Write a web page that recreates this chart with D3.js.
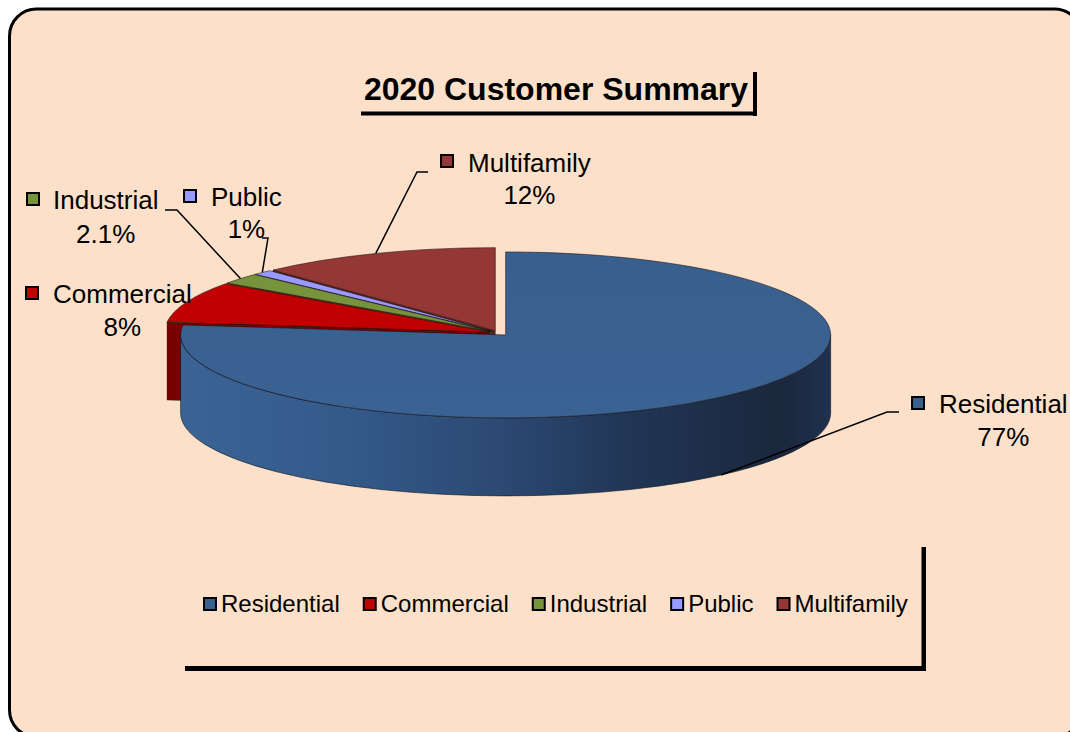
<!DOCTYPE html>
<html>
<head>
<meta charset="utf-8">
<script src="https://cdn.jsdelivr.net/npm/d3@7"></script>
<style>
  html, body { margin: 0; padding: 0; background: #fff; }
  svg text { font-family: "Liberation Sans", Arial, sans-serif; fill: #000; }
</style>
</head>
<body>
<div id="chart"></div>
<script>
// data
const categories = ["Residential", "Commercial", "Industrial", "Public", "Multifamily"];
const shares = [77, 8, 2.1, 1, 12];
const pctLabels = ["77%", "8%", "2.1%", "1%", "12%"];
const colors = ["#37608f", "#c00000", "#77933c", "#9999ff", "#953735"];
const title = "2020 Customer Summary";

const W = 1070, H = 732;

const svg = d3.select("#chart").append("svg")
  .attr("width", W).attr("height", H);

// chart area with rounded border
svg.append("rect")
  .attr("x", 9.5).attr("y", 9).attr("width", 1072).attr("height", 728)
  .attr("rx", 27).attr("ry", 27)
  .attr("fill", "#fce0c9").attr("stroke", "#000").attr("stroke-width", 3);

// title with its shadow lines
svg.append("rect").attr("x", 361).attr("y", 111.5).attr("width", 396).attr("height", 4).attr("fill", "#000");
svg.append("rect").attr("x", 753).attr("y", 72).attr("width", 4).attr("height", 44).attr("fill", "#000");
svg.append("text")
  .attr("x", 556).attr("y", 100)
  .attr("text-anchor", "middle")
  .style("font-size", "32px").style("font-weight", "bold")
  .text(title);

// =============================
// 3D PIE
// =============================
const cx = 499, cy = 333, rx = 325, ry = 83, depth = 78, explode = 10;

const arcs = d3.pie().sort(null).value(d => d)(shares)
  .map((a, i) => {
    const mid = (a.startAngle + a.endAngle) / 2;
    return {
      i, a0: a.startAngle, a1: a.endAngle, mid,
      ox: cx + explode * Math.sin(mid),
      oy: cy - explode * (ry / rx) * Math.cos(mid)
    };
  });

const pt = (s, a, dz = 0) => [s.ox + rx * Math.sin(a), s.oy - ry * Math.cos(a) + dz];

const defs = svg.append("defs");
const wallGrad = defs.append("linearGradient")
  .attr("id", "wallBlue").attr("gradientUnits", "userSpaceOnUse")
  .attr("x1", 180).attr("x2", 835).attr("y1", 0).attr("y2", 0);
[[0, "#3a6494"], [0.25, "#345a8a"], [0.5, "#2b4872"], [0.68, "#213656"], [0.92, "#1a273c"], [1, "#213250"]]
  .forEach(([o, c]) => wallGrad.append("stop").attr("offset", o).attr("stop-color", c));

const topGrad = defs.append("linearGradient")
  .attr("id", "topBlue").attr("x1", 0).attr("x2", 0).attr("y1", 0).attr("y2", 1);
[[0, "#395f8e"], [1, "#3a6292"]]
  .forEach(([o, c]) => topGrad.append("stop").attr("offset", o).attr("stop-color", c));

const darker = c => d3.color(c).darker(1.3).formatHex();

const pieG = svg.append("g");

function drawSlice(s) {
  const g = pieG.append("g");
  const col = colors[s.i];
  // radial cut faces
  [[s.a0, Math.sin(s.a0) < -1e-6], [s.a1, Math.sin(s.a1) > 1e-6]].forEach(([a, vis]) => {
    if (!vis) return;
    const p = pt(s, a), q = pt(s, a, depth);
    g.append("path")
      .attr("d", `M${s.ox},${s.oy}L${p}L${q}L${s.ox},${s.oy + depth}Z`)
      .attr("fill", darker(col))
      .attr("stroke", "#000").attr("stroke-opacity", 0.4).attr("stroke-width", 0.8);
  });
  // outer wall (front half only)
  const w0 = Math.max(s.a0, Math.PI / 2), w1 = Math.min(s.a1, 3 * Math.PI / 2);
  if (w1 > w0) {
    const p0 = pt(s, w0), p1 = pt(s, w1), b1 = pt(s, w1, depth), b0 = pt(s, w0, depth);
    g.append("path")
      .attr("d", `M${p0}A${rx},${ry} 0 0 1 ${p1}L${b1}A${rx},${ry} 0 0 0 ${b0}Z`)
      .attr("fill", s.i === 0 ? "url(#wallBlue)" : darker(col))
      .attr("stroke", "#0d1520").attr("stroke-opacity", 0.6).attr("stroke-width", 1);
  }
  // top face
  const t0 = pt(s, s.a0), t1 = pt(s, s.a1);
  const large = (s.a1 - s.a0) > Math.PI ? 1 : 0;
  g.append("path")
    .attr("d", `M${s.ox},${s.oy}L${t0}A${rx},${ry} 0 ${large} 1 ${t1}Z`)
    .attr("fill", s.i === 0 ? "url(#topBlue)" : col)
    .attr("stroke", "#1a1010").attr("stroke-opacity", 0.55).attr("stroke-width", 1);
}

// back slices first, front (Residential) last
arcs.slice().reverse().forEach(drawSlice);

// =============================
// DATA LABELS
// =============================
const labelLayout = [
  { sx: 912, sy: 397, tx: 939, ty: 413, py: 446, elbow: [887, 412], tick: 899 },
  { sx: 26,  sy: 287, tx: 53,  ty: 303, py: 336, elbow: null },
  { sx: 27,  sy: 193, tx: 53,  ty: 209, py: 243, elbow: [177, 210], tick: 165 },
  { sx: 184, sy: 190, tx: 211, ty: 206, py: 238, elbow: [268, 238], tick: 262 },
  { sx: 441, sy: 155, tx: 468, ty: 172, py: 204, elbow: [417, 172], tick: 428 }
];

const labG = svg.append("g");
arcs.forEach(s => {
  const L = labelLayout[s.i];
  if (L.elbow) {
    const front = Math.cos(s.mid) < 0;
    const anchor = pt(s, s.mid, front ? depth : 0);
    labG.append("path")
      .attr("d", `M${anchor}L${L.elbow}L${L.tick},${L.elbow[1]}`)
      .attr("fill", "none").attr("stroke", "#000").attr("stroke-width", 1.5);
  }
  labG.append("rect")
    .attr("x", L.sx).attr("y", L.sy).attr("width", 12).attr("height", 12)
    .attr("fill", colors[s.i]).attr("stroke", "#000").attr("stroke-width", 2);
  const name = labG.append("text")
    .attr("x", L.tx).attr("y", L.ty)
    .style("font-size", "26px")
    .text(categories[s.i]);
  const wText = name.node().getComputedTextLength();
  labG.append("text")
    .attr("x", L.tx + wText / 2).attr("y", L.py)
    .attr("text-anchor", "middle")
    .style("font-size", "26px")
    .text(pctLabels[s.i]);
});

// =============================
// LEGEND
// =============================
svg.append("rect").attr("x", 185).attr("y", 666).attr("width", 741).attr("height", 5).attr("fill", "#000");
svg.append("rect").attr("x", 921.5).attr("y", 547).attr("width", 4.5).attr("height", 124).attr("fill", "#000");

const legend = svg.append("g");
let lx = 204;
categories.forEach((c, i) => {
  legend.append("rect")
    .attr("x", lx).attr("y", 598).attr("width", 12).attr("height", 12)
    .attr("fill", colors[i]).attr("stroke", "#000").attr("stroke-width", 2);
  const t = legend.append("text")
    .attr("x", lx + 17).attr("y", 612)
    .style("font-size", "24px")
    .text(c);
  lx += 17 + t.node().getComputedTextLength() + 24;
});
</script>
</body>
</html>
